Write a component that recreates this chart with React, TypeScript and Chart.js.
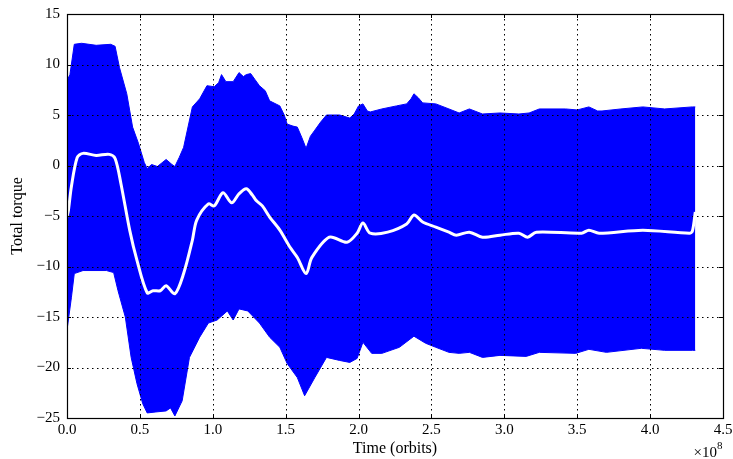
import React, { useEffect, useRef } from "react";
import { Chart, registerables } from "chart.js";

Chart.register(...registerables);

// time in units of 1e8 orbits
const upperTime = [0.0, 0.02, 0.05, 0.1, 0.2, 0.3, 0.33, 0.36, 0.41, 0.45, 0.49, 0.53, 0.55, 0.58, 0.62, 0.68, 0.72, 0.74, 0.77, 0.8, 0.86, 0.91, 0.96, 1.01, 1.04, 1.06, 1.09, 1.14, 1.18, 1.21, 1.23, 1.26, 1.29, 1.32, 1.36, 1.39, 1.46, 1.49, 1.51, 1.55, 1.58, 1.61, 1.64, 1.67, 1.7, 1.74, 1.78, 1.87, 1.94, 1.97, 2.0, 2.03, 2.06, 2.08, 2.16, 2.26, 2.33, 2.36, 2.38, 2.41, 2.44, 2.53, 2.62, 2.69, 2.76, 2.85, 2.97, 3.1, 3.17, 3.24, 3.42, 3.5, 3.58, 3.64, 3.67, 3.8, 3.95, 4.1, 4.29, 4.31];
const upperTorque = [8.4, 9.0, 12.0, 12.1, 11.9, 12.0, 11.8, 9.7, 7.1, 3.8, 2.2, 0.3, -0.3, 0.1, -0.1, 0.6, 0.1, -0.1, 0.8, 1.8, 5.8, 6.6, 7.9, 7.8, 8.2, 9.0, 8.3, 8.3, 9.2, 8.8, 9.0, 9.1, 8.5, 7.9, 7.4, 6.4, 5.9, 5.0, 4.1, 3.9, 3.8, 2.8, 1.7, 2.9, 3.5, 4.3, 5.0, 5.0, 4.7, 5.1, 5.9, 6.1, 5.4, 5.3, 5.6, 5.9, 6.1, 6.6, 7.1, 6.7, 6.2, 6.1, 5.6, 5.2, 5.6, 5.1, 5.2, 5.1, 5.2, 5.6, 5.6, 5.5, 5.8, 5.4, 5.4, 5.6, 5.8, 5.6, 5.8, 5.8];

const lowerTime = [0.0, 0.03, 0.05, 0.11, 0.27, 0.32, 0.35, 0.4, 0.44, 0.48, 0.52, 0.55, 0.61, 0.68, 0.71, 0.74, 0.79, 0.84, 0.91, 0.97, 1.03, 1.1, 1.14, 1.18, 1.24, 1.32, 1.39, 1.46, 1.51, 1.58, 1.63, 1.7, 1.78, 1.87, 1.94, 1.99, 2.03, 2.09, 2.16, 2.28, 2.38, 2.46, 2.53, 2.62, 2.69, 2.76, 2.85, 2.97, 3.15, 3.24, 3.49, 3.58, 3.7, 3.94, 4.1, 4.29, 4.31];
const lowerTorque = [-16.3, -13.1, -10.7, -10.4, -10.4, -10.6, -12.4, -15.0, -19.0, -21.6, -23.6, -24.5, -24.4, -24.3, -24.0, -24.8, -23.3, -19.0, -17.0, -15.6, -15.3, -14.4, -15.3, -14.2, -14.4, -15.6, -17.0, -18.0, -19.6, -21.0, -22.8, -21.0, -19.0, -19.3, -19.5, -19.1, -17.5, -18.6, -18.6, -18.0, -16.9, -17.6, -18.0, -18.5, -18.6, -18.5, -19.0, -18.8, -18.9, -18.5, -18.6, -18.2, -18.5, -18.1, -18.3, -18.3, -18.3];

const meanTime = [0.0, 0.01, 0.03, 0.07, 0.11, 0.2, 0.29, 0.33, 0.37, 0.43, 0.48, 0.55, 0.59, 0.64, 0.68, 0.74, 0.8, 0.86, 0.89, 0.97, 1.01, 1.07, 1.13, 1.18, 1.23, 1.27, 1.3, 1.34, 1.39, 1.46, 1.53, 1.58, 1.64, 1.68, 1.8, 1.92, 1.99, 2.03, 2.08, 2.2, 2.33, 2.38, 2.44, 2.53, 2.62, 2.67, 2.76, 2.85, 2.97, 3.1, 3.16, 3.22, 3.53, 3.58, 3.65, 3.95, 4.27, 4.29, 4.31];
const meanTorque = [-5.1, -4.4, -2.1, 0.8, 1.2, 1.0, 1.1, 0.7, -1.8, -6.4, -9.4, -12.6, -12.4, -12.4, -11.9, -12.7, -10.7, -7.4, -5.4, -3.8, -4.0, -2.7, -3.7, -2.8, -2.3, -2.9, -3.5, -4.0, -5.1, -6.4, -8.1, -9.1, -10.7, -9.1, -7.1, -7.6, -6.7, -5.7, -6.7, -6.6, -5.8, -4.9, -5.6, -6.1, -6.6, -6.9, -6.6, -7.1, -6.9, -6.7, -7.1, -6.6, -6.7, -6.4, -6.7, -6.4, -6.7, -6.5, -4.6];

const xTicks = [0, 0.5, 1.0, 1.5, 2.0, 2.5, 3.0, 3.5, 4.0, 4.5];
const yTicks = [-25, -20, -15, -10, -5, 0, 5, 10, 15];

const SERIF = "'Liberation Serif', 'Times New Roman', serif";

const toPts = (xs: number[], ys: number[]) => xs.map((x, i) => ({ x, y: ys[i] }));

const framePlugin = {
  id: "frameGrid",
  beforeDatasetDraw(chart: any, args: any) {
    if (args.index !== 0) return;
    const { ctx, chartArea: a, scales } = chart;
    ctx.save();
    ctx.strokeStyle = "#000";
    ctx.lineWidth = 1;
    ctx.setLineDash([1.5, 3.5]);
    xTicks.forEach((v) => {
      const px = Math.round(scales.x.getPixelForValue(v)) + 0.5;
      if (px <= a.left + 1 || px >= a.right - 1) return;
      ctx.beginPath();
      ctx.moveTo(px, a.top);
      ctx.lineTo(px, a.bottom);
      ctx.stroke();
    });
    yTicks.forEach((v) => {
      const py = Math.round(scales.y.getPixelForValue(v)) + 0.5;
      if (py <= a.top + 1 || py >= a.bottom - 1) return;
      ctx.beginPath();
      ctx.moveTo(a.left, py);
      ctx.lineTo(a.right, py);
      ctx.stroke();
    });
    ctx.restore();
  },
  afterDraw(chart: any) {
    const { ctx, chartArea: a, scales } = chart;
    ctx.save();
    ctx.strokeStyle = "#000";
    ctx.lineWidth = 1;
    ctx.setLineDash([]);
    const tl = 4;
    xTicks.forEach((v) => {
      const px = Math.round(scales.x.getPixelForValue(v)) + 0.5;
      ctx.beginPath();
      ctx.moveTo(px, a.bottom);
      ctx.lineTo(px, a.bottom - tl);
      ctx.moveTo(px, a.top);
      ctx.lineTo(px, a.top + tl);
      ctx.stroke();
    });
    yTicks.forEach((v) => {
      const py = Math.round(scales.y.getPixelForValue(v)) + 0.5;
      ctx.beginPath();
      ctx.moveTo(a.left, py);
      ctx.lineTo(a.left + tl, py);
      ctx.moveTo(a.right, py);
      ctx.lineTo(a.right - tl, py);
      ctx.stroke();
    });
    ctx.lineWidth = 1.2;
    ctx.strokeRect(Math.round(a.left) + 0.5, Math.round(a.top) + 0.5, Math.round(a.right - a.left), Math.round(a.bottom - a.top));
    // offset text for x axis
    ctx.fillStyle = "#000";
    ctx.textBaseline = "alphabetic";
    ctx.textAlign = "right";
    ctx.font = `15px ${SERIF}`;
    ctx.fillText("\u00d710", a.right - 6, 457);
    ctx.textAlign = "left";
    ctx.font = `11px ${SERIF}`;
    ctx.fillText("8", a.right - 6, 449);
    ctx.restore();
  },
};

export default function App() {
  const ref = useRef<HTMLCanvasElement | null>(null);
  useEffect(() => {
    document.body.style.margin = "0";
    const canvas = ref.current!;
    const chart = new Chart(canvas, {
      type: "line",
      data: {
        datasets: [
          {
            label: "mean",
            data: toPts(meanTime, meanTorque),
            borderColor: "#ffffff",
            borderWidth: 3,
            pointRadius: 0,
            tension: 0.3,
            fill: false,
          },
          {
            label: "upper",
            data: toPts(upperTime, upperTorque),
            borderColor: "#0000ff",
            backgroundColor: "#0000ff",
            borderWidth: 1,
            pointRadius: 0,
            tension: 0,
            fill: "+1",
          },
          {
            label: "lower",
            data: toPts(lowerTime, lowerTorque),
            borderColor: "#0000ff",
            borderWidth: 1,
            pointRadius: 0,
            tension: 0,
            fill: false,
          },
        ],
      },
      options: {
        responsive: false,
        animation: false,
        devicePixelRatio: 1,
        layout: { padding: { left: 0, top: 14, right: 10, bottom: 0 } },
        plugins: { legend: { display: false }, tooltip: { enabled: false } },
        scales: {
          x: {
            type: "linear",
            min: 0,
            max: 4.5,
            grid: { display: false, drawTicks: false },
            border: { display: false },
            afterBuildTicks: (s: any) => {
              s.ticks = xTicks.map((v) => ({ value: v }));
            },
            afterFit: (s: any) => {
              s.height = 41;
              s.paddingLeft = 0;
              s.paddingRight = 0;
            },
            ticks: {
              color: "#000",
              padding: 3,
              maxRotation: 0,
              font: { family: SERIF, size: 15 },
              callback: (v: any) => Number(v).toFixed(1),
            },
            title: {
              display: true,
              text: "Time (orbits)",
              color: "#000",
              font: { family: SERIF, size: 16 },
              padding: { top: 0, bottom: 1 },
            },
          },
          y: {
            type: "linear",
            min: -25,
            max: 15,
            grid: { display: false, drawTicks: false },
            border: { display: false },
            afterBuildTicks: (s: any) => {
              s.ticks = yTicks.map((v) => ({ value: v }));
            },
            afterFit: (s: any) => {
              s.width = 67;
              s.paddingTop = 0;
              s.paddingBottom = 0;
            },
            ticks: {
              color: "#000",
              padding: 7,
              font: { family: SERIF, size: 15 },
              callback: (v: any) => (Number(v) < 0 ? "\u2212" + Math.abs(Number(v)) : String(v)),
            },
            title: {
              display: true,
              text: "Total torque",
              color: "#000",
              font: { family: SERIF, size: 16 },
              padding: { top: 8, bottom: 0 },
            },
          },
        },
      },
      plugins: [framePlugin],
    });
    return () => chart.destroy();
  }, []);
  return <canvas ref={ref} width={733} height={459} style={{ display: "block" }} />;
}
